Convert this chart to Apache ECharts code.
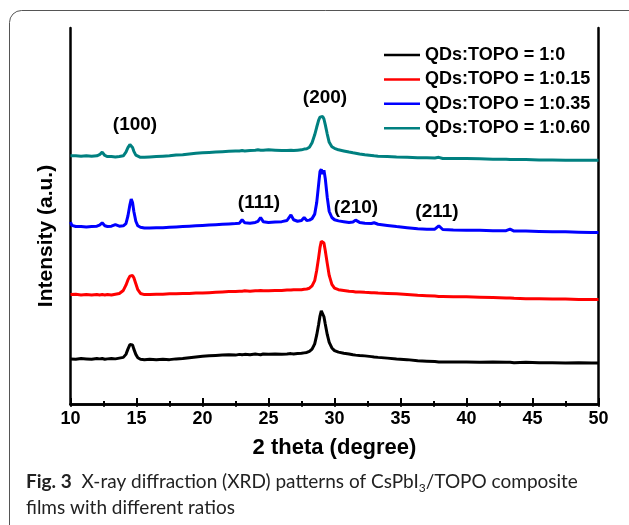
<!DOCTYPE html>
<html>
<head>
<meta charset="utf-8">
<script src="https://cdn.jsdelivr.net/npm/echarts@6/dist/echarts.min.js"></script>
<style>html,body{margin:0;padding:0;background:#fff}#c{width:629px;height:525px}</style>
</head>
<body>
<div id="c"></div>
<script>
// 2 theta values (degree)
const theta = [10.0,10.1,10.4,10.8,11.2,11.6,12.0,12.2,12.4,12.6,
12.8,13.1,13.4,13.7,14.0,14.2,14.35,14.5,14.6,14.7,
14.8,14.95,15.1,15.3,15.6,16.0,16.5,17.0,17.5,18.0,
18.5,19.0,19.5,20.0,20.5,21.0,21.5,22.0,22.5,22.8,
23.0,23.2,23.6,24.0,24.2,24.4,24.6,25.0,25.5,26.0,
26.4,26.7,26.9,27.2,27.5,27.7,27.9,28.1,28.3,28.5,
28.65,28.8,28.9,29.0,29.1,29.2,29.3,29.45,29.6,29.8,
30.0,30.3,30.7,31.1,31.4,31.6,31.9,32.3,32.8,33.0,
33.3,34.0,34.7,35.5,36.3,37.0,37.6,37.9,38.2,39.0,
40.0,41.0,42.0,43.0,43.3,43.6,44.5,45.5,46.5,47.5,
48.5,49.5,50.0];
// intensities (a.u., offset stacked)
const ratio0 = [12.0,12.1,11.9,12.1,12.0,11.9,12.1,12.0,12.1,11.9,
12.0,12.1,12.0,12.2,12.4,13.2,14.6,15.8,16.2,15.7,
14.6,13.2,12.3,11.9,11.8,11.9,11.8,11.9,11.8,12.0,
12.1,12.3,12.5,12.7,12.8,12.9,13.0,13.1,13.0,13.2,
13.1,13.2,13.1,13.3,13.2,13.1,13.3,13.2,13.3,13.2,
13.3,13.4,13.3,13.4,13.5,13.6,13.7,14.0,14.6,16.0,
18.3,21.2,23.4,24.8,24.6,23.2,21.3,18.5,16.4,14.9,
14.2,13.8,13.5,13.3,13.1,13.0,12.9,12.8,12.6,12.5,
12.4,12.2,12.0,11.8,11.5,11.4,11.3,11.2,11.2,11.2,
11.2,11.1,11.2,11.1,11.1,11.0,11.1,11.0,11.0,10.9,
11.0,10.9,10.9];
const ratio015 = [29.1,29.0,29.2,29.0,29.1,29.0,29.1,29.0,29.1,29.0,
29.1,29.0,29.2,29.4,30.2,31.6,33.0,34.0,34.4,34.2,
33.6,32.0,30.4,29.4,29.1,29.1,29.2,29.2,29.3,29.3,
29.4,29.4,29.5,29.5,29.6,29.7,29.8,29.9,29.9,30.0,
30.0,30.1,30.0,30.1,30.1,30.2,30.1,30.1,30.2,30.2,
30.3,30.3,30.4,30.4,30.4,30.5,30.6,30.8,31.4,32.8,
35.5,39.0,41.6,43.3,43.6,42.8,40.8,37.4,34.2,31.8,
30.8,30.4,30.2,30.0,29.9,29.8,29.8,29.7,29.6,29.6,
29.5,29.4,29.3,29.1,28.9,28.8,28.7,28.6,28.6,28.5,
28.5,28.4,28.3,28.2,28.2,28.1,28.0,28.0,27.9,27.9,
27.8,27.8,27.8];
const ratio035 = [48.4,47.5,47.2,47.2,47.1,47.2,47.3,47.6,48.2,47.4,
47.2,47.3,47.7,47.3,47.4,48.0,50.0,53.0,54.5,53.6,
51.2,48.6,47.4,47.0,46.8,46.8,46.9,46.9,47.0,47.1,
47.2,47.3,47.4,47.5,47.6,47.7,47.8,47.9,48.0,48.1,
49.0,48.2,48.1,48.3,48.6,49.6,48.5,48.3,48.4,48.5,
48.8,50.3,49.0,48.6,48.8,49.6,48.8,48.9,49.3,50.5,
53.5,58.5,61.8,62.4,61.2,62.2,60.0,55.0,51.2,49.6,
49.0,48.7,48.5,48.3,48.4,48.9,48.3,48.1,48.0,48.2,
47.8,47.5,47.2,46.9,46.6,46.5,46.5,47.4,46.4,46.3,
46.2,46.2,46.1,46.1,46.5,46.0,46.0,45.9,45.8,45.8,
45.7,45.6,45.6];
const ratio060 = [66.0,65.9,66.0,65.9,66.0,65.9,66.0,66.3,67.0,66.1,
65.8,65.8,65.7,65.8,66.0,67.0,68.2,69.0,68.9,68.2,
67.2,66.2,65.8,65.6,65.6,65.7,65.8,65.9,66.0,66.2,
66.3,66.5,66.7,66.8,66.9,67.0,67.1,67.2,67.3,67.3,
67.4,67.3,67.4,67.5,67.6,67.5,67.5,67.6,67.5,67.4,
67.4,67.5,67.4,67.5,67.6,67.8,67.9,68.3,69.5,71.6,
73.6,75.5,76.3,76.7,76.5,75.8,74.3,71.8,69.6,68.4,
68.0,67.6,67.3,67.0,66.8,66.7,66.5,66.3,66.1,66.0,
65.9,65.8,65.7,65.6,65.5,65.5,65.4,65.6,65.3,65.3,
65.3,65.2,65.1,65.1,65.0,65.0,65.0,64.9,64.9,64.8,
64.8,64.8,64.8];
const seriesNames = ['QDs:TOPO = 1:0','QDs:TOPO = 1:0.15','QDs:TOPO = 1:0.35','QDs:TOPO = 1:0.60'];
const seriesColors = ['#000000','#ff0000','#0000ff','#008080'];
const seriesValues = [ratio0, ratio015, ratio035, ratio060];
const xTicks = [10,15,20,25,30,35,40,45,50];
const peakLabels = [
  {text:'(100)', x:135, y:125},
  {text:'(200)', x:325, y:98},
  {text:'(111)', x:259, y:203},
  {text:'(210)', x:356, y:208},
  {text:'(211)', x:437, y:212}
];

const chart = echarts.init(document.getElementById('c'), null, {renderer:'canvas'});
const FONT = 'Liberation Sans, Arial, sans-serif';
const series = seriesValues.map((vals, i) => ({
  name: seriesNames[i],
  type: 'line',
  data: theta.map((t, k) => [t, vals[k]]),
  showSymbol: false,
  symbol: 'none',
  lineStyle: {color: seriesColors[i], width: 3},
  itemStyle: {color: seriesColors[i]},
  z: 2 + i,
  animation: false
}));

const graphics = [
  {type:'rect', shape:{x:9.5, y:10.5, width:700, height:600, r:12},
   style:{fill:'none', stroke:'#555', lineWidth:1}, z:-10, silent:true},
  {type:'text', x:46, y:236, rotation:Math.PI/2,
   style:{text:'Intensity (a.u.)', font:'bold 21px ' + FONT, fill:'#000', textAlign:'center', textVerticalAlign:'middle'}},
  {type:'text', x:26, y:482,
   style:{text:'{b|Fig. 3}  X-ray diffraction (XRD) patterns of CsPbI{s|3}/TOPO composite',
     font:'19px Lato, sans-serif', fill:'#222', textVerticalAlign:'middle',
     rich:{b:{fontWeight:'bold', fontSize:19, fontFamily:'Lato, sans-serif', fill:'#222'},
           s:{fontSize:12, fontFamily:'Lato, sans-serif', padding:[12,0,0,0], fill:'#222'}}}},
  {type:'text', x:26, y:508,
   style:{text:'films with different ratios', font:'19px Lato, sans-serif', fill:'#222', textVerticalAlign:'middle'}}
].concat(peakLabels.map(p => ({
  type:'text', x:p.x, y:p.y,
  style:{text:p.text, font:'bold 19px ' + FONT, fill:'#000', textAlign:'center', textVerticalAlign:'middle'}
})));

chart.setOption({
  animation:false,
  backgroundColor:'#fff',
  grid:{left:70.5, right:30.5, top:28, bottom:121, containLabel:false},
  legend:{
    orient:'vertical', left:379, top:40,
    itemWidth:36, itemHeight:2.5, itemGap:4.4, icon:'rect',
    textStyle:{fontFamily:FONT, fontWeight:'bold', fontSize:18, color:'#000', lineHeight:20, padding:[0,0,0,0]},
    data: seriesNames.map((n, i) => ({name:n, itemStyle:{color:seriesColors[i]}}))
  },
  xAxis:[{
    type:'value', min:10, max:50, interval:5, position:'bottom',
    name:'2 theta (degree)', nameLocation:'middle', nameGap:33,
    nameTextStyle:{fontFamily:FONT, fontWeight:'bold', fontSize:22, color:'#000'},
    axisLine:{show:true, lineStyle:{color:'#000', width:2.5}},
    axisTick:{show:true, inside:true, length:6, lineStyle:{color:'#000', width:2}},
    minorTick:{show:true, splitNumber:2, length:3, lineStyle:{color:'#000', width:2}},
    axisLabel:{show:true, margin:6, fontFamily:FONT, fontWeight:'bold', fontSize:18, color:'#000',
      formatter:(v) => xTicks.indexOf(v) >= 0 ? String(v) : ''},
    splitLine:{show:false}
  },{
    type:'value', min:10, max:50, interval:2.5, position:'top',
    axisLine:{show:true, lineStyle:{color:'#000', width:2.5}},
    axisTick:{show:true, inside:true, length:3, lineStyle:{color:'#000', width:1.5}},
    axisLabel:{show:false}, splitLine:{show:false}
  }],
  yAxis:[{
    type:'value', min:0, max:100, position:'left',
    axisLine:{show:true, lineStyle:{color:'#000', width:2.5}},
    axisTick:{show:false}, axisLabel:{show:false}, splitLine:{show:false}
  },{
    type:'value', min:0, max:100, position:'right',
    axisLine:{show:true, lineStyle:{color:'#000', width:2.5}},
    axisTick:{show:false}, axisLabel:{show:false}, splitLine:{show:false}
  }],
  series: series,
  graphic: graphics
});
</script>
</body>
</html>
